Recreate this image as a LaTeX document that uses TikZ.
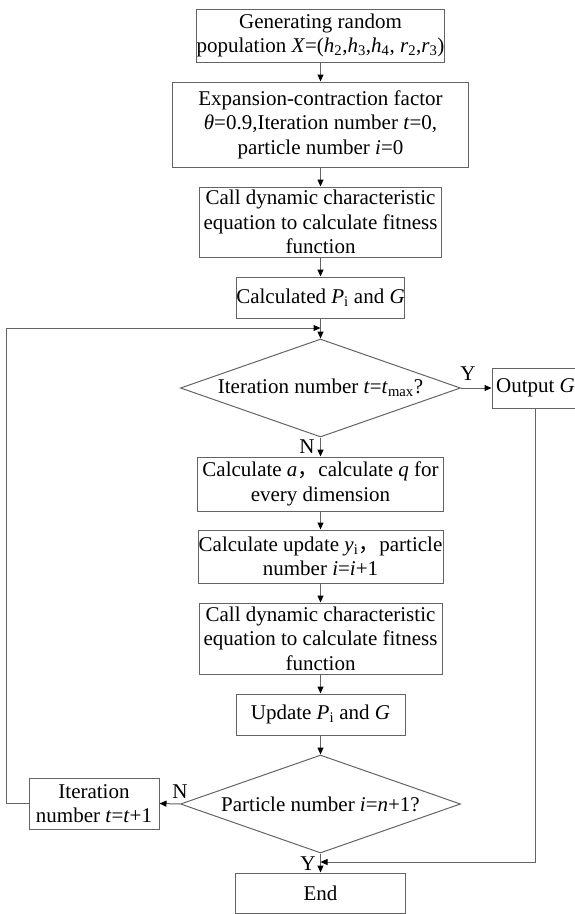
\documentclass[tikz,border=0pt]{standalone}
\usepackage{fontspec}
\setmainfont{Liberation Serif}
\newfontfamily\cjk{Noto Sans CJK SC}
\usetikzlibrary{arrows.meta,shapes.geometric}
\newcommand{\vi}[1]{\textit{#1}}
\newcommand{\fw}{{\cjk ，}}
\definecolor{lc}{RGB}{100,100,100}
\begin{document}
\begin{tikzpicture}[x=1pt,y=-1pt,
  box/.style={draw=lc, line width=1pt, inner sep=0pt, align=center,
    font=\fontsize{21}{24.5}\selectfont},
  dia/.style={draw=lc, line width=1pt, diamond, inner sep=0pt,
    minimum width=280pt, minimum height=98pt},
  txt/.style={inner sep=0pt, align=center, font=\fontsize{21}{24.5}\selectfont},
  lbl/.style={inner sep=0pt, font=\fontsize{21}{24.5}\selectfont},
  arr/.style={draw=lc, line width=1pt, -{Triangle[length=7pt,width=6pt,color=black]}}
]
\useasboundingbox (0,0) rectangle (574,914);

\node[box, minimum width=243pt, minimum height=53pt] (b1) at (320.5,35.5)
  {Generating random\\population \vi{X}=(\vi{h}\textsubscript{2},\vi{h}\textsubscript{3},\vi{h}\textsubscript{4}, \vi{r}\textsubscript{2},\vi{r}\textsubscript{3})};
\node[box, minimum width=296pt, minimum height=85pt] (b2) at (320.5,124.5)
  {Expansion-contraction factor\\\vi{θ}=0.9,Iteration number \vi{t}=0,\\particle number \vi{i}=0};
\node[box, minimum width=242pt, minimum height=70pt] (b3) at (320.5,222)
  {Call dynamic characteristic\\equation to calculate fitness\\function};
\node[box, minimum width=168pt, minimum height=41pt] (b4) at (320.5,297.5)
  {Calculated \vi{P}\textsubscript{i} and \vi{G}};
\node[dia] (d1) at (320.5,388) {};
\node[txt] (d1t) at (d1.center) {Iteration number \vi{t}=\vi{t}\textsubscript{max}?};
\node[box, minimum width=87pt, minimum height=40pt] (out) at (535.5,388)
  {Output \vi{G}};
\node[box, minimum width=246pt, minimum height=54pt] (b5) at (320.5,484)
  {Calculate \vi{a}\fw calculate \vi{q} for\\every dimension};
\node[box, minimum width=245pt, minimum height=53pt] (b6) at (320.5,556.5)
  {Calculate update \vi{y}\textsubscript{i}\fw particle\\number \vi{i}=\vi{i}+1};
\node[box, minimum width=243pt, minimum height=71pt] (b7) at (320.5,638.5)
  {Call dynamic characteristic\\equation to calculate fitness\\function};
\node[box, minimum width=169pt, minimum height=41pt] (b8) at (320.5,714.5)
  {Update \vi{P}\textsubscript{i} and \vi{G}};
\node[dia] (d2) at (320.5,804) {};
\node[txt] (d2t) at (d2.center) {Particle number \vi{i}=\vi{n}+1?};
\node[box, minimum width=130pt, minimum height=51pt] (b9) at (94,803.5)
  {Iteration\\number \vi{t}=\vi{t}+1};
\node[box, minimum width=170pt, minimum height=40pt] (end) at (320.5,893)
  {End};

\node[lbl] (y1) at (468,374) {Y};
\node[lbl] (n1) at (307,447) {N};
\node[lbl] (n2) at (180,792) {N};
\node[lbl] (y2) at (308,864) {Y};

\coordinate (j1) at (320.5,328);
\coordinate (j2) at (320.5,862);

\draw[arr] (b1.south) -- (b2.north);
\draw[arr] (b2.south) -- (b3.north);
\draw[arr] (b3.south) -- (b4.north);
\draw[arr] (b4.south) -- (d1.north);
\draw[arr] (d1.east) -- (out.west);
\draw[arr] (d1.south) -- (b5.north);
\draw[arr] (b5.south) -- (b6.north);
\draw[arr] (b6.south) -- (b7.north);
\draw[arr] (b7.south) -- (b8.north);
\draw[arr] (b8.south) -- (d2.north);
\draw[arr] (d2.west) -- (b9.east);
\draw[arr] (d2.south) -- (end.north);
\draw[arr] (b9.west) -- ++(-22,0) |- (j1);
\draw[arr] (out.south) |- (j2);
\end{tikzpicture}
\end{document}
